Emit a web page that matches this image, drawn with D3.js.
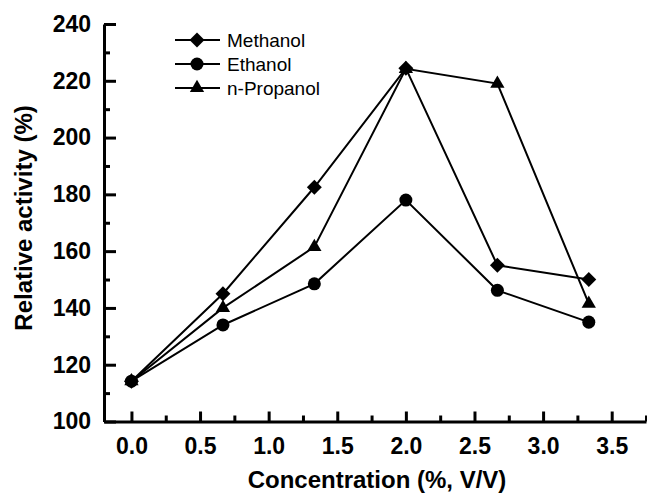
<!DOCTYPE html>
<html>
<head>
<meta charset="utf-8">
<script src="https://cdn.jsdelivr.net/npm/d3@7"></script>
<style>
  body { margin: 0; background: #fff; }
  text { font-family: "Liberation Sans", Arial, sans-serif; }
</style>
</head>
<body>
<div class="svg-mount"></div>
<script>
const concentrations = [0, 0.667, 1.333, 2.0, 2.667, 3.333];
const methanol = [114.2, 145.0, 182.5, 224.4, 155.0, 150.0];
const ethanol = [114.2, 134.0, 148.5, 178.0, 146.2, 135.0];
const propanol = [114.2, 140.0, 161.5, 224.2, 219.0, 141.5];
const seriesNames = ["Methanol", "Ethanol", "n-Propanol"];
const xTicks = [0, 0.5, 1.0, 1.5, 2.0, 2.5, 3.0, 3.5];
const xMinorTicks = [0.25, 0.75, 1.25, 1.75, 2.25, 2.75, 3.25, 3.75];
const yTicks = [100, 120, 140, 160, 180, 200, 220, 240];
const yMinorTicks = [110, 130, 150, 170, 190, 210, 230];

const actual_width = 647;
const actual_height = 498;
const margin = { top: 24, right: 1, bottom: 76.5, left: 104 };

const x = d3
  .scaleLinear()
  .domain([-0.2, 3.75])
  .range([margin.left, actual_width - margin.right]);
const y = d3
  .scaleLinear()
  .domain([100, 240])
  .range([actual_height - margin.bottom, margin.top]);

const svg = d3
  .select(".svg-mount")
  .append("svg")
  .attr("width", actual_width)
  .attr("height", actual_height);

// minor ticks first, then the main axes over them
svg
  .append("g")
  .attr("transform", `translate(0,${y(100)})`)
  .call(d3.axisBottom(x).tickValues(xMinorTicks).tickSize(-6).tickFormat(""))
  .call((g) => g.select(".domain").remove())
  .selectAll("line")
  .attr("stroke-width", 3);

svg
  .append("g")
  .attr("transform", `translate(${x(-0.2)},0)`)
  .call(d3.axisLeft(y).tickValues(yMinorTicks).tickSize(-6).tickFormat(""))
  .call((g) => g.select(".domain").remove())
  .selectAll("line")
  .attr("stroke-width", 3);

const xAxis = svg
  .append("g")
  .attr("transform", `translate(0,${y(100)})`)
  .call(
    d3
      .axisBottom(x)
      .tickValues(xTicks)
      .tickSizeInner(-10)
      .tickSizeOuter(0)
      .tickPadding(16)
      .tickFormat(d3.format(".1f"))
  );

const yAxis = svg
  .append("g")
  .attr("transform", `translate(${x(-0.2)},0)`)
  .call(
    d3
      .axisLeft(y)
      .tickValues(yTicks)
      .tickSizeInner(-12)
      .tickSizeOuter(0)
      .tickPadding(13)
      .tickFormat(d3.format("d"))
  );

[xAxis, yAxis].forEach((a) => {
  a.select(".domain").attr("stroke-width", 3);
  a.selectAll(".tick line").attr("stroke-width", 3);
  a.selectAll(".tick text")
    .attr("font-size", 23)
    .attr("font-weight", "bold")
    .attr("fill", "#000");
});

// axis titles
svg
  .append("text")
  .attr("x", 377)
  .attr("y", 488)
  .attr("text-anchor", "middle")
  .attr("font-size", 24)
  .attr("font-weight", "bold")
  .text("Concentration (%, V/V)");

svg
  .append("text")
  .attr("transform", "translate(32,218) rotate(-90)")
  .attr("text-anchor", "middle")
  .attr("font-size", 24)
  .attr("font-weight", "bold")
  .text("Relative activity (%)");

const symbols = [
  { type: d3.symbolSquare, size: 112, rotate: 45 },
  { type: d3.symbolCircle, size: 133, rotate: 0 },
  { type: d3.symbolTriangle, size: 88, rotate: 0 },
];
const allSeries = [methanol, ethanol, propanol];

const line = d3
  .line()
  .x((d, i) => x(concentrations[i]))
  .y((d) => y(d));

// draw ethanol first so methanol and propanol sit on top
[1, 2, 0].forEach((k) => {
  const values = allSeries[k];
  const sym = symbols[k];
  const g = svg.append("g").attr("class", "series");
  g.append("path")
    .datum(values)
    .attr("fill", "none")
    .attr("stroke", "#000")
    .attr("stroke-width", 2)
    .attr("d", line);
  g.selectAll("path.marker")
    .data(values)
    .enter()
    .append("path")
    .attr("class", "marker")
    .attr(
      "transform",
      (d, i) => `translate(${x(concentrations[i])},${y(d)}) rotate(${sym.rotate})`
    )
    .attr("d", d3.symbol().type(sym.type).size(sym.size))
    .attr("fill", "#000");
});

// legend
const legendY = [40, 64, 88];
const legend = svg
  .append("g")
  .selectAll("g.legend")
  .data(seriesNames)
  .enter()
  .append("g")
  .attr("class", "legend")
  .attr("transform", (d, i) => `translate(0,${legendY[i]})`);

legend
  .append("line")
  .attr("x1", 175)
  .attr("x2", 220)
  .attr("stroke", "#000")
  .attr("stroke-width", 2);

legend
  .append("path")
  .attr("transform", (d, i) => `translate(197,0) rotate(${symbols[i].rotate})`)
  .attr("d", (d, i) => d3.symbol().type(symbols[i].type).size(symbols[i].size)())
  .attr("fill", "#000");

legend
  .append("text")
  .attr("x", 227)
  .attr("dy", "0.36em")
  .attr("font-size", 19)
  .text((d) => d);
</script>
</body>
</html>
